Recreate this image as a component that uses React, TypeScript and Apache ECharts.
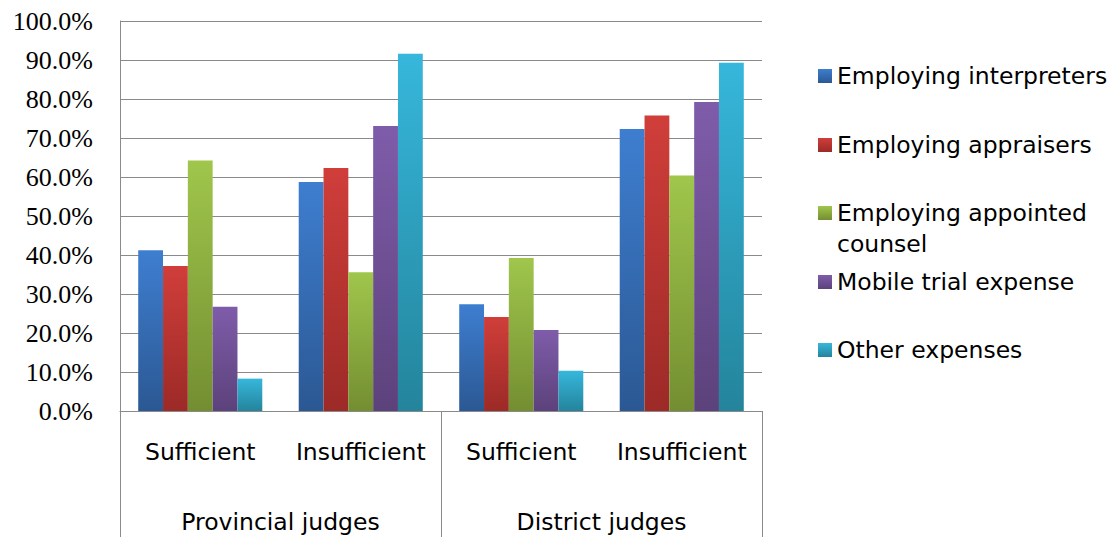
import React, { useEffect, useRef } from "react";
import * as echarts from "echarts";

const categories = ["Sufficient", "Insufficient", "Sufficient", "Insufficient"];
const groups = ["Provincial judges", "District judges"];
const seriesNames = [
  "Employing interpreters",
  "Employing appraisers",
  "Employing appointed counsel",
  "Mobile trial expense",
  "Other expenses",
];
const interpreters = [41.2, 58.7, 27.4, 72.3];
const appraisers = [37.2, 62.3, 24.1, 75.8];
const appointedCounsel = [64.2, 35.6, 39.2, 60.4];
const mobileTrial = [26.7, 73.1, 20.8, 79.2];
const otherExpenses = [8.3, 91.6, 10.3, 89.3];
const seriesValues = [interpreters, appraisers, appointedCounsel, mobileTrial, otherExpenses];

const gradients: [string, string][] = [
  ["#3E7ED0", "#2B5893"],
  ["#D03E3A", "#9C2A27"],
  ["#A0C64C", "#738E31"],
  ["#7F5CAA", "#5C427B"],
  ["#36B7DB", "#24849C"],
];

const SANS = "DejaVu Sans";
const SERIF = "Liberation Serif";
const GRAY = "#8a8a8a";

export default function App() {
  const ref = useRef<HTMLDivElement>(null);
  useEffect(() => {
    if (!ref.current) return;
    const chart = echarts.init(ref.current, undefined, { renderer: "svg" });
    const legendCenters = [76, 145, 213, 282, 350];
    const legends = seriesNames.map((name, i) => {
      const twoLine = name === "Employing appointed counsel";
      return {
        orient: "vertical",
        left: 818,
        top: twoLine ? legendCenters[i] - 46.5 : legendCenters[i] - 15.5,
        padding: 0,
        icon: "rect",
        itemWidth: 14,
        itemHeight: 14,
        selectedMode: false,
        formatter: (n: string) =>
          n === "Employing appointed counsel" ? " \nEmploying appointed\ncounsel" : n,
        textStyle: {
          fontFamily: SANS,
          fontSize: 23.5,
          color: "#000",
          lineHeight: 31,
        },
        data: [name],
      };
    });
    chart.setOption({
      animation: false,
      backgroundColor: "#fff",
      grid: { left: 120, right: 351, top: 21, bottom: 126, containLabel: false },
      legend: legends,
      xAxis: [
        {
          type: "category",
          data: categories,
          position: "bottom",
          axisLine: { show: true, lineStyle: { color: GRAY, width: 1 } },
          axisTick: { show: false },
          axisLabel: { interval: 0, margin: 29, fontFamily: SANS, fontSize: 23.5, color: "#000" },
        },
        {
          type: "category",
          data: groups,
          position: "bottom",
          axisLine: { show: false },
          axisTick: { show: true, interval: 0, length: 126, lineStyle: { color: GRAY, width: 1 } },
          axisLabel: { interval: 0, margin: 99, fontFamily: SANS, fontSize: 23.5, color: "#000" },
        },
      ],
      yAxis: {
        type: "value",
        min: 0,
        max: 100,
        interval: 10,
        axisLine: { show: true, lineStyle: { color: GRAY, width: 1 } },
        axisTick: { show: false },
        splitLine: { show: true, lineStyle: { color: GRAY, width: 1 } },
        axisLabel: {
          margin: 27,
          fontFamily: SERIF,
          fontSize: 26,
          color: "#000",
          formatter: (v: number) => v.toFixed(1) + "%",
        },
      },
      series: seriesNames.map((name, i) => ({
        name,
        type: "bar",
        xAxisIndex: 0,
        barGap: "0%",
        barCategoryGap: "22.7%",
        data: seriesValues[i],
        itemStyle: {
          color: new echarts.graphic.LinearGradient(0, 0, 0, 1, [
            { offset: 0, color: gradients[i][0] },
            { offset: 1, color: gradients[i][1] },
          ]),
        },
      })),
    });
    return () => chart.dispose();
  }, []);
  return (
    <div
      ref={ref}
      style={{ position: "absolute", left: 0, top: 0, width: 1113, height: 537, background: "#fff" }}
    />
  );
}
